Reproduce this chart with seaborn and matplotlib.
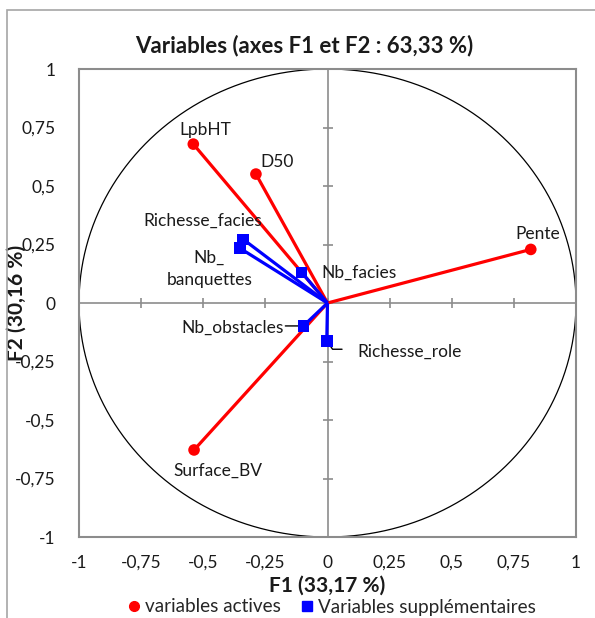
import numpy as np
import pandas as pd
import matplotlib
matplotlib.use("Agg")
import matplotlib.pyplot as plt
from matplotlib.patches import Rectangle
from matplotlib.lines import Line2D
import seaborn as sns

# ---- data ----
active_names = ["LpbHT", "D50", "Pente", "Surface_BV"]
active_f1 = [-0.540, -0.288, 0.818, -0.537]
active_f2 = [0.679, 0.551, 0.229, -0.628]

supp_names = ["Richesse_facies", "Nb_banquettes", "Nb_facies", "Nb_obstacles", "Richesse_role"]
supp_f1 = [-0.339, -0.352, -0.104, -0.097, -0.003]
supp_f2 = [0.272, 0.234, 0.131, -0.098, -0.162]

tick_values = [-1, -0.75, -0.5, -0.25, 0, 0.25, 0.5, 0.75, 1]
tick_labels = ["-1", "-0,75", "-0,5", "-0,25", "0", "0,25", "0,5", "0,75", "1"]

title = "Variables (axes F1 et F2 : 63,33 %)"
xlabel = "F1 (33,17 %)"
ylabel = "F2 (30,16 %)"
group_active = "variables actives"
group_supp = "Variables supplémentaires"

# ---- style ----
sns.set_theme(style="white")
plt.rcParams["font.family"] = ["Lato", "DejaVu Sans"]

df = pd.DataFrame({
    "F1": active_f1 + supp_f1,
    "F2": active_f2 + supp_f2,
    "name": active_names + supp_names,
    "groupe": [group_active] * len(active_names) + [group_supp] * len(supp_names),
})

fig = plt.figure(figsize=(5.95, 6.18), dpi=100)
ax = fig.add_axes([79 / 595, 1 - 537 / 618, (576 - 79) / 595, (537 - 69) / 618])

# outer chart frame
fig.patches.append(Rectangle((7 / 595, -0.1), 1.2, 1 - 10 / 618 + 0.1,
                             transform=fig.transFigure, fill=False,
                             edgecolor="#a6a6a6", linewidth=1.2, zorder=0))

# center axis lines with tick marks
ax.axhline(0, color="#8c8c8c", lw=1.2, zorder=1)
ax.axvline(0, color="#8c8c8c", lw=1.2, zorder=1)
tv = np.array(tick_values)
ax.plot(tv, np.zeros_like(tv), ls="none", marker="|", ms=7, mew=1.2, color="#8c8c8c", zorder=1)
ax.plot(np.zeros_like(tv), tv, ls="none", marker="_", ms=7, mew=1.2, color="#8c8c8c", zorder=1)

# unit circle
t = np.linspace(0, 2 * np.pi, 400)
ax.plot(np.cos(t), np.sin(t), color="black", lw=0.9, zorder=1)

colors = {group_active: "#ff0000", group_supp: "#0000ff"}

# vectors
for x, y in zip(active_f1, active_f2):
    ax.plot([0, x], [0, y], color=colors[group_active], lw=2.3, zorder=2, solid_capstyle="butt")
for x, y in zip(supp_f1, supp_f2):
    ax.plot([0, x], [0, y], color=colors[group_supp], lw=2.3, zorder=3, solid_capstyle="butt")

sns.scatterplot(data=df, x="F1", y="F2", hue="groupe", style="groupe",
                palette=colors, markers={group_active: "o", group_supp: "s"},
                s=70, edgecolor="none", ax=ax, zorder=4, legend=False)

# labels (offsets in points)
offsets = {
    "LpbHT": (9, 10, "center"),
    "D50": (15, 9, "center"),
    "Pente": (5, 11, "center"),
    "Surface_BV": (17, -15, "center"),
    "Richesse_facies": (-29, 13, "center"),
    "Nb_banquettes": (-22, -15, "center"),
    "Nb_facies": (14, 0, "left"),
    "Nb_obstacles": (-14, -1, "right"),
    "Richesse_role": (22, -8, "left"),
}
display = {"Nb_banquettes": "Nb_\nbanquettes"}
for _, r in df.iterrows():
    dx, dy, ha = offsets[r["name"]]
    ax.annotate(display.get(r["name"], r["name"]), (r["F1"], r["F2"]),
                xytext=(dx, dy), textcoords="offset points",
                ha=ha, va="center", fontsize=12.5, color="#1a1a1a",
                linespacing=1.5, zorder=5)

# leader lines
i = supp_names.index("Nb_obstacles")
ax.annotate("", (supp_f1[i], supp_f2[i]), xytext=(-13, 0), textcoords="offset points",
            arrowprops=dict(arrowstyle="-", color="black", lw=1.0, shrinkA=0, shrinkB=4))
i = supp_names.index("Richesse_role")
ax.annotate("", (supp_f1[i], supp_f2[i]), xytext=(11, -6), textcoords="offset points",
            arrowprops=dict(arrowstyle="-", color="black", lw=1.0, shrinkA=0, shrinkB=2,
                            connectionstyle="angle,angleA=0,angleB=-55,rad=0"))

ax.set_xlim(-1, 1)
ax.set_ylim(-1, 1)
ax.set_xticks(tick_values)
ax.set_xticklabels(tick_labels)
ax.set_yticks(tick_values)
ax.set_yticklabels(tick_labels)
ax.tick_params(axis="both", length=0, labelsize=12.5, colors="#1a1a1a")
ax.tick_params(axis="x", pad=13)
ax.tick_params(axis="y", pad=17)
for sp in ax.spines.values():
    sp.set_color("#8c8c8c")
    sp.set_linewidth(1.5)

ax.set_xlabel(xlabel, fontsize=15, fontweight="bold", labelpad=3, color="#1a1a1a")
ax.set_ylabel(ylabel, fontsize=15, fontweight="bold", color="#1a1a1a")
ax.yaxis.set_label_coords(-0.105, 0.5)
fig.text(304.5 / 595, 1 - 46 / 618, title, ha="center", va="center",
         fontsize=16, fontweight="bold", color="#1a1a1a")

# legend
handles = [Line2D([], [], ls="none", marker="o", color=colors[group_active], ms=7),
           Line2D([], [], ls="none", marker="s", color=colors[group_supp], ms=7)]
fig.legend(handles, [group_active, group_supp], loc="center", bbox_to_anchor=(0.555, 1 - 607 / 618),
           ncol=2, frameon=False, fontsize=13.6, handletextpad=0.05, columnspacing=0.9,
           handlelength=1.0, borderaxespad=0)

fig.savefig("out.png", dpi=100)
